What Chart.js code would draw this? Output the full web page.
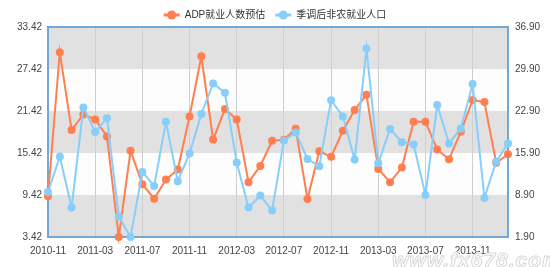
<!DOCTYPE html>
<html>
<head>
<meta charset="utf-8">
<script src="https://cdn.jsdelivr.net/npm/chart.js@4.4.1/dist/chart.umd.min.js"></script>
<style>
  html, body { margin: 0; padding: 0; background: #fff; overflow: hidden; }
  #wrap { position: relative; width: 550px; height: 267px; }
  #mark {
    position: absolute; left: 392px; top: 248px;
    font: bold italic 21px "Liberation Sans", sans-serif;
    color: #fff; -webkit-text-stroke: 1px #d8d8d8; letter-spacing: 1px;
  }
</style>
</head>
<body>
<div id="wrap">
  <canvas id="chart" width="550" height="267"></canvas>
  <div id="mark">www.fx678.com</div>
</div>
<script>
const months = [
  "2010-11", "2010-12", "2011-01", "2011-02", "2011-03", "2011-04", "2011-05", "2011-06",
  "2011-07", "2011-08", "2011-09", "2011-10", "2011-11", "2011-12", "2012-01", "2012-02",
  "2012-03", "2012-04", "2012-05", "2012-06", "2012-07", "2012-08", "2012-09", "2012-10",
  "2012-11", "2012-12", "2013-01", "2013-02", "2013-03", "2013-04", "2013-05", "2013-06",
  "2013-07", "2013-08", "2013-09", "2013-10", "2013-11", "2013-12", "2014-01", "2014-02"
];

// ADP就业人数预估 (left axis)
const adp = [
  9.24, 29.81, 18.69, 20.93, 20.22, 17.78, 3.42, 15.73,
  10.96, 8.89, 11.62, 13.05, 20.64, 29.24, 17.35, 21.7,
  20.22, 11.24, 13.58, 17.16, 17.3, 18.88, 8.85, 15.68,
  14.87, 18.59, 21.56, 23.75, 13.15, 11.24, 13.34, 19.88,
  19.88, 15.92, 14.54, 18.45, 22.99, 22.7, 14.01, 15.25
];

// 季调后非农就业人口 (right axis)
const nonfarm = [
  9.4, 15.3, 6.8, 23.5, 19.4, 21.7, 5.3, 1.9,
  12.74, 10.4, 21.1, 11.2, 15.8, 22.4, 27.5, 25.95,
  14.3, 6.8, 8.8, 6.3, 18.0, 19.3, 14.9, 13.7,
  24.7, 22.0, 14.8, 33.3, 14.2, 19.9, 17.7, 17.3,
  8.9, 23.9, 17.5, 20.0, 27.4, 8.4, 14.5, 17.5
];

const leftTicks = [3.42, 9.42, 15.42, 21.42, 27.42, 33.42];
const rightTicks = [1.90, 8.90, 15.90, 22.90, 29.90, 36.90];

const FONT = '"Liberation Sans", "Noto Sans CJK SC", sans-serif';

// alternating grey/white bands behind the plot, plus the blue frame
const bandsPlugin = {
  id: "bands",
  beforeDraw(chart) {
    const { ctx, chartArea } = chart;
    const y = chart.scales.y;
    ctx.save();
    for (let i = 0; i < leftTicks.length - 1; i++) {
      const y1 = y.getPixelForValue(leftTicks[i]);
      const y2 = y.getPixelForValue(leftTicks[i + 1]);
      ctx.fillStyle = i % 2 === 0 ? "#e1e1e1" : "#fdfdfd";
      ctx.fillRect(chartArea.left, y2, chartArea.right - chartArea.left, y1 - y2);
    }
    ctx.restore();
  },
  beforeDatasetsDraw(chart) {
    const { ctx, chartArea } = chart;
    ctx.save();
    ctx.strokeStyle = "#72a7d6";
    ctx.lineWidth = 2;
    ctx.strokeRect(chartArea.left, chartArea.top, chartArea.right - chartArea.left, chartArea.bottom - chartArea.top);
    ctx.restore();
  },
  afterDraw(chart) {
    // line + circle marker for each legend entry
    const legend = chart.legend;
    if (!legend || !legend.legendHitBoxes) return;
    const ctx = chart.ctx;
    legend.legendHitBoxes.forEach((box, i) => {
      const item = legend.legendItems[i];
      const cy = box.top + 5;
      ctx.save();
      ctx.strokeStyle = item.strokeStyle;
      ctx.fillStyle = item.strokeStyle;
      ctx.lineWidth = 3;
      ctx.beginPath();
      ctx.moveTo(box.left, cy);
      ctx.lineTo(box.left + 16, cy);
      ctx.stroke();
      ctx.beginPath();
      ctx.arc(box.left + 8, cy, 4.5, 0, Math.PI * 2);
      ctx.fill();
      ctx.restore();
    });
  }
};

const legendHeight = {
  id: "legendHeight",
  beforeInit(chart) {
    const fit = chart.legend.fit;
    chart.legend.fit = function () {
      fit.bind(chart.legend)();
      this.height = 27;
    };
  }
};

new Chart(document.getElementById("chart"), {
  type: "line",
  data: {
    labels: months,
    datasets: [
      {
        label: "ADP就业人数预估",
        data: adp,
        yAxisID: "y",
        borderColor: "#ff7f50",
        backgroundColor: "#ff7f50",
        borderWidth: 2,
        pointRadius: 4,
        pointBorderWidth: 0,
        tension: 0,
        clip: false,
        order: 1
      },
      {
        label: "季调后非农就业人口",
        data: nonfarm,
        yAxisID: "y1",
        borderColor: "#87cefa",
        backgroundColor: "#87cefa",
        borderWidth: 2,
        pointRadius: 4,
        pointBorderWidth: 0,
        tension: 0,
        clip: false,
        order: 0
      }
    ]
  },
  options: {
    responsive: false,
    animation: false,
    layout: { padding: 0 },
    plugins: {
      tooltip: { enabled: false },
      legend: {
        position: "top",
        labels: {
          usePointStyle: true,
          pointStyle: "line",
          pointStyleWidth: 16,
          boxHeight: 10,
          padding: 10,
          color: "#333",
          font: { size: 10, family: FONT },
          sort: (a, b) => a.datasetIndex - b.datasetIndex
        }
      }
    },
    scales: {
      x: {
        offset: false,
        grid: {
          drawTicks: false,
          color: (c) => (c.index % 4 === 0 && c.index > 0 ? "#cfcfcf" : "transparent")
        },
        border: { display: false },
        ticks: {
          autoSkip: false,
          maxRotation: 0,
          padding: 8,
          color: "#444",
          font: { size: 10, family: FONT },
          callback: (v, i) => (i % 4 === 0 ? months[i] : "")
        },
        afterFit: (s) => { s.height = 30; }
      },
      y: {
        position: "left",
        min: leftTicks[0],
        max: leftTicks[leftTicks.length - 1],
        grid: { display: false, drawTicks: false },
        border: { display: false },
        afterBuildTicks: (s) => { s.ticks = leftTicks.map((v) => ({ value: v })); },
        ticks: {
          padding: 6,
          color: "#444",
          font: { size: 10, family: FONT },
          callback: (v) => Number(v).toFixed(2)
        },
        afterFit: (s) => { s.width = 48; }
      },
      y1: {
        position: "right",
        min: rightTicks[0],
        max: rightTicks[rightTicks.length - 1],
        grid: { display: false, drawTicks: false },
        border: { display: false },
        afterBuildTicks: (s) => { s.ticks = rightTicks.map((v) => ({ value: v })); },
        ticks: {
          padding: 7,
          color: "#444",
          font: { size: 10, family: FONT },
          callback: (v) => Number(v).toFixed(2)
        },
        afterFit: (s) => { s.width = 42; }
      }
    }
  },
  plugins: [bandsPlugin, legendHeight]
});
</script>
</body>
</html>
